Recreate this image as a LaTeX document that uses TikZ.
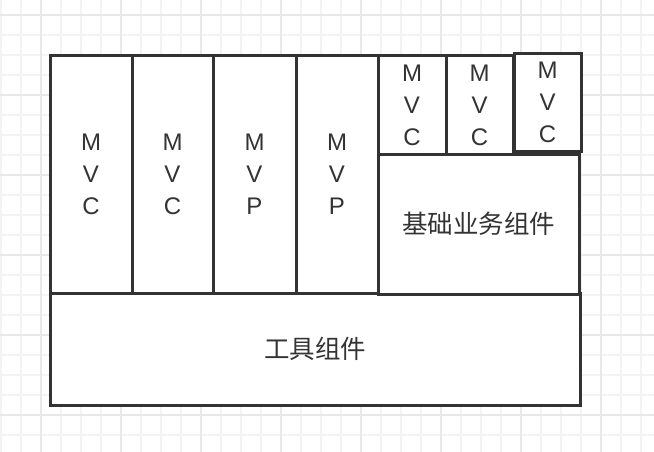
\documentclass[tikz,border=0pt]{standalone}
\usepackage{fontspec}
\setmainfont{Liberation Sans}
\newfontfamily\cjk{Noto Sans CJK SC}
\usepackage{tikz}

\definecolor{linec}{HTML}{333333}
\definecolor{textc}{HTML}{333333}
\definecolor{gridminor}{HTML}{F3F3F3}
\definecolor{gridmajor}{HTML}{E8E8E8}

\tikzset{
    minorline/.style={draw=gridminor, line width=1.5pt},
    majorline/.style={draw=gridmajor, line width=1.5pt},
    blk/.style={draw=linec, line width=3pt, fill=white, inner sep=0pt, outer sep=0pt,
        align=center, text=textc, font=\fontsize{24}{32}\selectfont},
    cjkblk/.style={blk, font=\cjk\fontsize{25.5}{32}\selectfont}
}

\begin{document}
\begin{tikzpicture}[x=1pt, y=-1pt]
    \useasboundingbox (0,0) rectangle (654,452);
    \fill[white] (0,0) rectangle (654,452);

    % Draw the background grid
    \foreach \x in {1,21,...,641} {
        \draw[minorline] (\x,0) -- (\x,452);
    }
    \foreach \y in {15,35,...,435} {
        \draw[minorline] (0,\y) -- (654,\y);
    }
    \foreach \x in {41,121,...,601} {
        \draw[majorline] (\x,0) -- (\x,452);
    }
    \foreach \y in {15,95,...,415} {
        \draw[majorline] (0,\y) -- (654,\y);
    }

    % Tool layer at the bottom
    \node[cjkblk, minimum width=530, minimum height=112] (tool) at (315,349) {工具组件};

    % Four tall columns
    \node[blk, minimum width=82, minimum height=237] (colA) at (91,174.5) {M\\V\\C};
    \node[blk, minimum width=81, minimum height=237] (colB) at (172.5,174.5) {M\\V\\C};
    \node[blk, minimum width=83, minimum height=237] (colC) at (254.5,174.5) {M\\V\\P};
    \node[blk, minimum width=82, minimum height=237] (colD) at (337,174.5) {M\\V\\P};

    % Base business components
    \node[cjkblk, minimum width=201, minimum height=140] (base) at (478.5,224) {基础业务组件};

    % Small MVC boxes on top
    \node[blk, minimum width=68, minimum height=98] (mvcA) at (412,105) {M\\V\\C};
    \node[blk, minimum width=67, minimum height=98] (mvcB) at (479.5,105) {M\\V\\C};
    \node[blk, minimum width=67, minimum height=97] (mvcC) at (547.5,102.5) {M\\V\\C};

\end{tikzpicture}
\end{document}
